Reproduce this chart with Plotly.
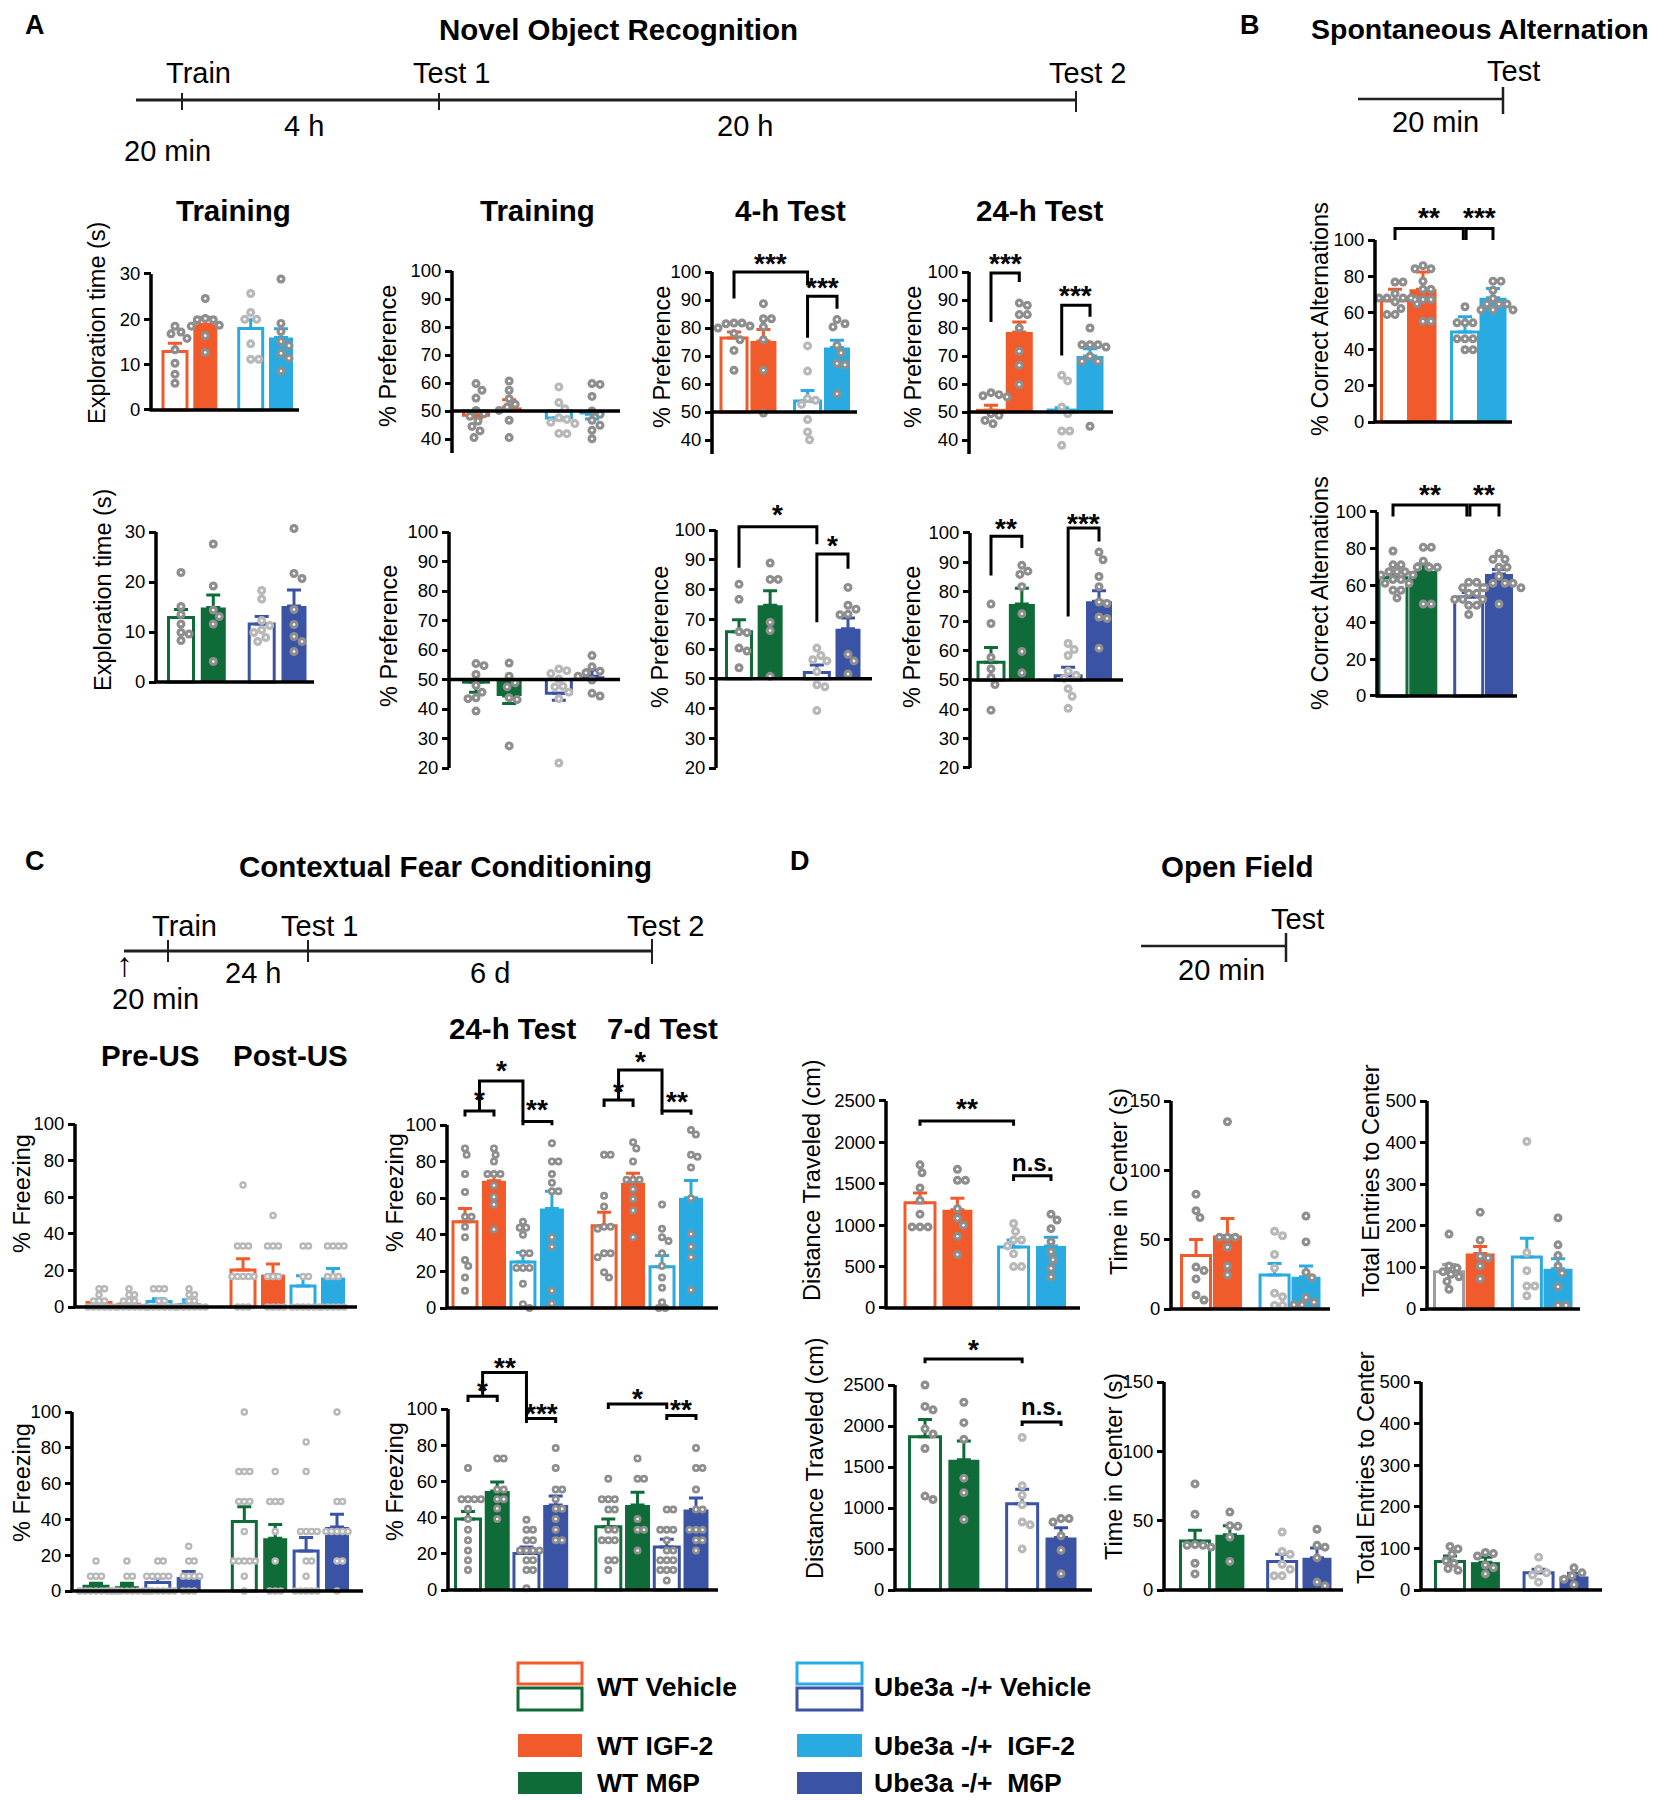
import plotly.graph_objects as go

W, H = 1660, 1800
OFF = 8  # page body margin in the browser
FONT = 'Liberation Sans, Arial, Helvetica, sans-serif'
ORANGE = '#F15A2B'
LBLUE = '#29ABE2'
GREEN = '#0F6B38'
BLUE = '#3A53A4'
GRAYBAR = '#9E9E9E'
DOT_D = '#8E8E8E'
DOT_L = '#B8B8B8'
TL = '#231F20'

IGF_COLORS = [ORANGE, ORANGE, LBLUE, LBLUE]
M6P_COLORS = [GREEN, GREEN, BLUE, BLUE]
IGF8 = IGF_COLORS + IGF_COLORS
M6P8 = M6P_COLORS + M6P_COLORS
FILLED4 = [False, True, False, True]
FILLED8 = FILLED4 + FILLED4
POS4 = [0, 1, 2.5, 3.5]
POS8 = [0, 1, 2, 3, 4.8, 5.8, 6.8, 7.8]

# ---------------- A: Novel object recognition ----------------
A_EXP1_MEAN = [12.9, 18.9, 18.0, 16.0]
A_EXP1_SEM = [1.8, 1.5, 1.9, 1.9]
A_EXP1_PTS = [[18.5, 17.2, 16.8, 15.8, 13.3, 10.3, 7.9, 5.9],
              [24.6, 20.2, 19.9, 19.9, 18.7, 18.5, 16.4, 12.7],
              [25.7, 21.5, 20.0, 20.0, 14.6, 11.2, 11.2],
              [28.9, 19.1, 17.3, 15.1, 14.2, 12.5, 11.4, 8.6]]

A_TRN1_MEAN = [48.5, 51.3, 47.5, 48.8]
A_TRN1_SEM = [0.9, 2.7, 0.6, 1.7]
A_TRN1_PTS = [[59.8, 57.4, 54.6, 50.2, 49.0, 48.1, 46.4, 44.5, 42.9, 40.5],
              [60.7, 57.4, 54.4, 52.4, 51.4, 50.2, 46.7, 40.5],
              [58.6, 53.0, 50.8, 47.6, 47.0, 46.0, 45.5, 42.0, 41.9],
              [59.8, 59.5, 55.2, 50.0, 48.8, 46.7, 44.9, 43.1, 40.1]]

A_4H1_MEAN = [76.4, 75.4, 53.9, 73.0]
A_4H1_SEM = [2.2, 4.1, 3.8, 2.6]
A_4H1_PTS = [[81.8, 81.8, 81.5, 80.7, 80.0, 78.0, 75.8, 72.0, 64.9],
             [88.7, 83.3, 83.3, 80.4, 75.8, 64.9, 49.6],
             [73.6, 64.6, 54.8, 54.2, 52.7, 47.3, 42.9, 40.1],
             [83.0, 81.5, 80.4, 73.8, 71.1, 67.3, 66.9, 56.5]]

A_24H1_MEAN = [50.6, 78.6, 50.7, 70.0]
A_24H1_SEM = [1.8, 3.5, 0.8, 2.6]
A_24H1_PTS = [[56.9, 56.2, 55.8, 55.4, 49.4, 48.8, 47.0, 45.8],
              [88.9, 88.1, 84.8, 84.8, 80.0, 71.7, 66.7, 59.8],
              [63.1, 61.1, 51.8, 49.4, 43.2, 43.2, 38.1],
              [80.0, 74.0, 74.0, 74.0, 73.2, 69.9, 68.1, 68.1, 44.9]]

A_EXP2_MEAN = [12.9, 14.9, 11.6, 15.2]
A_EXP2_SEM = [1.6, 2.5, 1.5, 3.2]
A_EXP2_PTS = [[21.9, 15.1, 13.5, 11.6, 9.9, 9.6, 8.3],
              [27.6, 19.2, 14.4, 13.1, 11.6, 4.1],
              [18.3, 16.6, 12.3, 11.3, 10.4, 9.9, 8.9, 8.1],
              [30.7, 21.7, 20.7, 14.5, 11.5, 9.1, 8.1, 6.1]]

A_TRN2_MEAN = [49.1, 44.4, 45.3, 51.1]
A_TRN2_SEM = [3.4, 2.5, 2.3, 2.1]
A_TRN2_PTS = [[55.4, 54.7, 51.7, 48.0, 45.7, 43.8, 43.5, 39.3],
              [55.6, 51.1, 48.9, 47.5, 43.8, 43.2, 27.5],
              [53.6, 53.0, 52.0, 50.2, 47.7, 47.5, 45.7, 43.5, 21.7],
              [58.1, 54.3, 52.8, 52.3, 51.1, 49.8, 45.3, 44.4]]

A_4H2_MEAN = [65.8, 74.7, 52.1, 66.8]
A_4H2_SEM = [4.0, 4.9, 2.5, 3.6]
A_4H2_PTS = [[81.8, 76.7, 65.8, 65.5, 60.3, 59.3, 53.7],
             [88.9, 83.4, 83.4, 69.0, 66.2, 50.8],
             [60.3, 57.8, 56.4, 56.0, 52.4, 48.0, 47.3, 39.3],
             [80.7, 74.7, 73.4, 71.7, 71.5, 58.2, 56.0, 51.6]]

A_24H2_MEAN = [56.0, 75.8, 51.4, 76.8]
A_24H2_SEM = [5.0, 5.4, 2.9, 3.5]
A_24H2_PTS = [[75.8, 69.2, 57.6, 53.8, 50.8, 48.4, 39.7],
              [89.0, 87.0, 85.9, 81.7, 72.5, 59.7, 52.4],
              [62.4, 60.3, 58.3, 52.9, 51.6, 50.5, 47.0, 44.4, 40.3],
              [93.5, 90.9, 85.2, 81.7, 76.5, 76.0, 71.4, 70.9, 60.8]]

# ---------------- B: Spontaneous alternation ----------------
B1_MEAN = [66.6, 72.9, 49.5, 68.3]
B1_SEM = [6.3, 9.5, 8.3, 5.1]
B1_PTS = [[76.9, 76.9, 70.6, 68.1, 68.1, 68.1, 68.1, 66.0, 64.8, 62.3, 59.0, 59.0],
          [85.9, 84.2, 84.2, 77.4, 72.9, 72.9, 67.3, 67.3, 67.3, 55.3, 55.3],
          [63.3, 54.5, 54.5, 54.5, 45.7, 45.7, 45.7, 39.7, 39.7],
          [77.4, 77.4, 72.4, 67.8, 64.8, 64.8, 64.8, 61.6, 61.6, 61.6]]

B2_MEAN = [64.3, 68.0, 53.8, 66.3]
B2_SEM = [2.0, 3.8, 2.5, 2.5]
B2_PTS = [[78.8, 71.3, 71.3, 67.5, 67.5, 67.5, 65.8, 65.8, 63.3, 63.3, 61.3, 61.3, 57.5, 57.5, 53.3],
          [80.8, 80.8, 73.3, 70.0, 70.0, 70.0, 50.0, 50.0],
          [61.8, 61.8, 58.8, 58.8, 55.8, 55.8, 52.5, 52.5, 52.5, 49.3, 49.3, 44.3],
          [77.5, 74.3, 74.3, 70.0, 70.0, 65.0, 61.3, 61.3, 61.3, 58.8, 58.8, 50.0]]

# ---------------- C: Contextual fear conditioning ----------------
C_PP1_MEAN = [2.5, 2.4, 3.0, 2.2, 20.2, 17.7, 11.5, 16.1]
C_PP1_SEM = [1.2, 1.0, 1.5, 1.8, 6.1, 5.8, 5.6, 5.0]
C_PP1_PTS = [[10, 10, 6.7, 3.3, 3.3, 3.3, 0, 0, 0, 0, 0, 0],
             [10, 6.7, 6.7, 3.3, 3.3, 3.3, 0, 0, 0, 0, 0, 0],
             [10, 10, 10, 3.3, 3.3, 0, 0, 0, 0, 0, 0],
             [10, 6.7, 6.7, 3.3, 3.3, 0, 0, 0, 0, 0, 0],
             [66.7, 33.3, 33.3, 33.3, 16.7, 16.7, 16.7, 16.7, 16.7, 0, 0, 0],
             [50, 33.3, 33.3, 33.3, 16.7, 16.7, 16.7, 0, 0, 0, 0],
             [33.3, 33.3, 16.7, 16.7, 0, 0, 0, 0, 0, 0],
             [33.3, 33.3, 33.3, 33.3, 16.7, 16.7, 16.7, 0, 0, 0, 0, 0]]

C_PP2_MEAN = [2.7, 2.7, 4.7, 7.8, 38.8, 29.5, 22.3, 35.7]
C_PP2_SEM = [1.6, 1.6, 2.5, 3.1, 8.2, 7.6, 7.6, 7.2]
C_PP2_PTS = [[16.7, 8.3, 8.3, 8.3, 0, 0, 0, 0, 0, 0, 0, 0],
             [16.7, 8.3, 8.3, 0, 0, 0, 0, 0, 0, 0, 0],
             [16.7, 16.7, 8.3, 8.3, 8.3, 8.3, 8.3, 0, 0, 0, 0, 0, 0],
             [25, 16.7, 16.7, 8.3, 8.3, 8.3, 8.3, 0, 0, 0],
             [100, 66.7, 66.7, 66.7, 50, 50, 50, 33.3, 16.7, 16.7, 16.7, 16.7, 16.7, 8.3, 0],
             [66.7, 50, 50, 50, 33.3, 16.7, 0, 0, 0],
             [83.3, 66.7, 33.3, 33.3, 33.3, 33.3, 16.7, 16.7, 8.3, 0, 0, 0, 0, 0],
             [100, 50, 50, 33.3, 33.3, 33.3, 33.3, 33.3, 16.7, 16.7, 0]]

C_T1_MEAN = [47.1, 69.5, 25.1, 54.4, 45.0, 68.4, 22.6, 60.3]
C_T1_SEM = [7.3, 3.7, 5.2, 9.4, 7.3, 5.2, 6.1, 9.4]
C_T1_PTS = [[87.2, 83.7, 73.2, 63.4, 49.8, 49.8, 44.4, 38.7, 26.2, 23.0, 16.7, 9.4],
            [87.2, 83.7, 80.1, 73.2, 73.2, 73.2, 66.9, 60.7, 56.5, 42.9],
            [47.1, 43.9, 43.9, 40.0, 29.9, 29.9, 21.9, 21.9, 21.9, 13.2, 2.1, 0],
            [90.0, 80.1, 80.1, 73.2, 68.4, 63.8, 63.8, 38.7, 33.5, 9.4, 2.5],
            [83.7, 83.7, 61.3, 55.4, 44.4, 44.4, 43.3, 29.9, 29.9, 27.8, 19.5, 16.7],
            [90.6, 87.2, 80.1, 70.1, 70.1, 70.1, 64.9, 59.6, 53.3, 38.7],
            [56.5, 43.3, 38.7, 36.6, 29.9, 23.0, 16.7, 11.1, 3.1, 0, 0],
            [97.3, 94.8, 83.7, 82.6, 76.8, 60.0, 40.4, 33.5, 27.8, 9.8]]

C_T2_MEAN = [39.2, 54.7, 20.1, 47.0, 35.0, 47.0, 23.7, 44.5]
C_T2_SEM = [4.2, 5.0, 3.6, 4.9, 4.2, 7.0, 4.3, 6.3]
C_T2_PTS = [[67.4, 50.2, 50.2, 50.2, 50.2, 44.9, 39.2, 33.3, 27.5, 21.8, 16.5, 11.0],
            [72.7, 72.7, 55.5, 55.5, 50.2, 50.2, 45.0, 39.2],
            [38.8, 33.3, 33.3, 27.5, 27.5, 21.8, 21.8, 21.8, 21.8, 16.5, 16.5, 11.0, 11.0, 1.0],
            [78.4, 67.4, 55.5, 55.5, 50.2, 44.9, 44.9, 39.2, 33.3, 27.5, 27.5],
            [61.4, 50.2, 50.2, 50.2, 44.5, 44.5, 33.3, 33.3, 27.5, 27.5, 27.5, 16.5, 16.5, 11.0],
            [72.7, 61.4, 61.4, 39.2, 33.3, 33.3, 21.8],
            [44.5, 44.5, 33.3, 33.3, 33.3, 27.5, 21.8, 21.8, 16.5, 16.5, 16.5, 11.0, 11.0, 11.0, 5.3],
            [78.4, 67.4, 67.4, 55.5, 44.5, 44.5, 33.3, 33.3, 33.3, 27.5, 27.5, 21.8]]

# ---------------- D: Open field ----------------
D_DIST1_MEAN = [1271, 1188, 738, 750]
D_DIST1_SEM = [117, 137, 83, 104]
D_DIST1_PTS = [[1729, 1633, 1450, 1300, 1133, 979, 979, 979],
               [1675, 1542, 1542, 1200, 1083, 1000, 867, 646],
               [1021, 925, 821, 821, 750, 654, 500, 500],
               [1133, 1063, 958, 800, 679, 583, 479, 375]]
D_DIST2_MEAN = [1869, 1587, 1052, 640]
D_DIST2_SEM = [210, 231, 177, 118]
D_DIST2_PTS = [[2500, 2239, 2197, 1965, 1902, 1726, 1145, 1103],
               [2290, 2041, 1839, 1364, 1187, 859],
               [1860, 1271, 1157, 1040, 829, 795, 501],
               [871, 871, 829, 661, 484, 198]]
D_TIME1_MEAN = [38.5, 53.0, 24.6, 23.3]
D_TIME1_SEM = [11.7, 12.2, 8.2, 7.7]
D_TIME1_PTS = [[82.8, 70.9, 65.9, 30.3, 27.7, 21.7, 10.1, 6.5],
               [135.0, 51.7, 51.7, 51.7, 44.5, 31.0, 24.6],
               [56.1, 52.8, 39.3, 29.5, 11.4, 8.8, 2.6, 2.6],
               [67.0, 48.4, 26.4, 22.5, 8.3, 4.9, 3.1, 3.1]]
D_ENT1_MEAN = [89.7, 133.6, 125.0, 96.6]
D_ENT1_SEM = [17.2, 16.4, 44.8, 24.1]
D_ENT1_PTS = [[180.0, 103.4, 98.3, 89.7, 83.6, 77.6, 66.4, 47.4],
              [232.8, 165.5, 126.7, 122.4, 103.4, 72.4],
              [402.6, 135.3, 92.2, 55.2, 55.2, 31.9],
              [219.0, 154.3, 128.4, 103.4, 86.2, 53.4, 8.6, 8.6]]
D_TIME2_MEAN = [35.3, 39.9, 20.6, 23.2]
D_TIME2_SEM = [7.7, 6.5, 5.2, 7.0]
D_TIME2_PTS = [[76.5, 54.6, 32.7, 32.2, 32.2, 30.9, 19.3, 11.6],
               [56.2, 46.4, 45.9, 38.1, 20.6],
               [41.8, 27.8, 25.8, 18.6, 14.9, 10.3, 10.3],
               [43.8, 32.2, 30.9, 23.2, 5.7, 3.1]]
D_ENT2_MEAN = [68.7, 67.0, 41.2, 32.6]
D_ENT2_SEM = [12.9, 12.0, 8.6, 7.8]
D_ENT2_PTS = [[104.8, 98.8, 85.9, 70.4, 64.4, 51.5, 47.3],
              [90.2, 87.6, 81.6, 60.1, 53.3, 38.7],
              [79.0, 49.8, 41.2, 36.1, 18.9],
              [53.3, 41.2, 34.4, 25.8, 12.9]]

T_A1 = [0, 10, 20, 30]
T_PREF_TOP = [40, 50, 60, 70, 80, 90, 100]
T_PREF_BOT = [20, 30, 40, 50, 60, 70, 80, 90, 100]
T_100 = [0, 20, 40, 60, 80, 100]
T_DIST = [0, 500, 1000, 1500, 2000, 2500]
T_TIME = [0, 50, 100, 150]
T_ENT = [0, 100, 200, 300, 400, 500]

# ---------------------------------------------------------------
fig = go.Figure()
axes = {}
shapes = []
annotations = []
counter = [0]


def PX(px):
    return (px - OFF) / W


def PY(py):
    return 1 - (py - OFF) / H


def interp(pos, a):
    i0 = int(a)
    f = a - i0
    if f < 1e-9:
        return pos[i0]
    return pos[i0] + f * (pos[i0 + 1] - pos[i0])


def beeswarm(vals, uy, gap):
    offs = [0.0]
    for k in range(1, 60):
        offs += [k * gap / 4.0, -k * gap / 4.0]
    placed = []
    res = [0.0] * len(vals)
    for i in sorted(range(len(vals)), key=lambda t: -vals[t]):
        y = vals[i] * uy
        for o in offs:
            if all((o - a) ** 2 + (y - b) ** 2 >= gap * gap for a, b in placed):
                placed.append((o, y))
                res[i] = o
                break
    return res


def panel(means, sems, pts, colors, filled, light, pos, ax_px, end_px, c0, c1, bw,
          cal, ax_lo, ax_hi, base, ticks, brackets=(), dot=9, gap=8, edge=None):
    counter[0] += 1
    i = counter[0]
    sfx = '' if i == 1 else str(i)
    xn, yn = 'x' + sfx, 'y' + sfx
    ux = (c1 - c0) / (pos[-1] - pos[0])

    def dx(p):
        return pos[0] + (p - c0) / ux
    v1, p1, v2, p2 = cal
    uy = (p1 - p2) / (v2 - v1)

    def py(v):
        return p1 - (v - v1) * uy
    top = ax_hi
    for b in brackets:
        top = max(top, b[5] + 18 / uy)
    top = max(top, max(max(g) for g in pts) + 8 / uy)
    ylo = ax_lo - 8 / uy
    yhi = top + 6 / uy
    xlo_px, xhi_px = ax_px - 10, end_px + 10
    axes['xaxis' + sfx] = dict(domain=[PX(xlo_px), PX(xhi_px)], range=[dx(xlo_px), dx(xhi_px)],
                               visible=False, anchor=yn, fixedrange=True)
    axes['yaxis' + sfx] = dict(domain=[PY(py(ylo)), PY(py(yhi))], range=[ylo, yhi],
                               anchor='free', position=PX(ax_px), showline=False, showgrid=False,
                               zeroline=False, ticks='outside', ticklen=7, tickwidth=2.5,
                               tickcolor='black', tickvals=ticks, ticktext=[str(t) for t in ticks],
                               tickfont=dict(size=18.5, color='black', family=FONT), fixedrange=True)
    lc = edge or colors
    n = len(means)
    fig.add_trace(go.Bar(x=pos, y=[m - base for m in means], base=[base] * n, width=[bw / ux] * n,
                         marker=dict(color=[c if f else 'white' for c, f in zip(colors, filled)],
                                     line=dict(color=lc, width=[0 if f else 3 for f in filled])),
                         xaxis=xn, yaxis=yn, showlegend=False, hoverinfo='skip'))
    for j, (m, s) in enumerate(zip(means, sems)):
        up = s if m >= base else 0
        dn = s if m < base else 0
        fig.add_trace(go.Scatter(x=[pos[j]], y=[m], mode='markers', marker=dict(size=2, opacity=0),
                                 error_y=dict(type='data', symmetric=False, array=[up], arrayminus=[dn],
                                              color=lc[j], thickness=3, width=7),
                                 xaxis=xn, yaxis=yn, showlegend=False, hoverinfo='skip'))
    xs, ys, cs = [], [], []
    for j, g in enumerate(pts):
        offs = beeswarm(g, uy, gap)
        xs += [pos[j] + o / ux for o in offs]
        ys += list(g)
        cs += [DOT_L if light[j] else DOT_D] * len(g)
    fig.add_trace(go.Scatter(x=xs, y=ys, mode='markers', cliponaxis=False,
                             marker=dict(size=dot, color=cs, line=dict(width=0)),
                             xaxis=xn, yaxis=yn, showlegend=False, hoverinfo='skip'))
    fig.add_trace(go.Scatter(x=xs, y=ys, mode='markers', cliponaxis=False,
                             marker=dict(size=2.6, color='white', line=dict(width=0)),
                             xaxis=xn, yaxis=yn, showlegend=False, hoverinfo='skip'))
    X0, X1 = dx(ax_px), dx(end_px)
    shapes.append(dict(type='line', xref=xn, yref=yn, x0=X0, x1=X0, y0=ax_lo, y1=ax_hi,
                       line=dict(color='black', width=3.5), layer='above'))
    shapes.append(dict(type='line', xref=xn, yref=yn, x0=X0 - 1.5 / ux, x1=X1, y0=base, y1=base,
                       line=dict(color='black', width=3.5), layer='above'))
    for (a, b, lev, la, lb, ty, lab) in brackets:
        xa, xb = interp(pos, a), interp(pos, b)
        shapes.append(dict(type='path', xref=xn, yref=yn,
                           path=f'M {xa},{la} L {xa},{lev} L {xb},{lev} L {xb},{lb}',
                           line=dict(color='black', width=3)))
        star = '*' in lab
        annotations.append(dict(xref=xn, yref=yn, x=(xa + xb) / 2, y=ty, text=f'<b>{lab}</b>',
                                showarrow=False, yshift=-4 if star else 0,
                                font=dict(size=28 if star else 24, family=FONT, color='black')))


def txt(x, y, s, size, bold=False, anchor='center', angle=0):
    annotations.append(dict(xref='paper', yref='paper', x=PX(x), y=PY(y),
                            text=f'<b>{s}</b>' if bold else s, showarrow=False,
                            xanchor=anchor, yanchor='middle', textangle=angle,
                            font=dict(size=size, family=FONT, color='black')))


def pline(x0, y0, x1, y1, w, c=TL):
    shapes.append(dict(type='line', xref='paper', yref='paper', x0=PX(x0), y0=PY(y0),
                       x1=PX(x1), y1=PY(y1), line=dict(color=c, width=w)))


def prect(x0, y0, x1, y1, fill, line, lw):
    shapes.append(dict(type='rect', xref='paper', yref='paper', x0=PX(x0), y0=PY(y0),
                       x1=PX(x1), y1=PY(y1), fillcolor=fill, line=dict(color=line, width=lw)))


LA = [False, False, True, False]
LB = [False, False, False, False]
LC = [True] * 8
LT = [False] * 8

# A row 1
panel(A_EXP1_MEAN, A_EXP1_SEM, A_EXP1_PTS, IGF_COLORS, FILLED4, LA, POS4, 151, 299, 175, 281, 24,
      (0, 410, 30, 274), 0, 30, 0, T_A1)
panel(A_TRN1_MEAN, A_TRN1_SEM, A_TRN1_PTS, IGF_COLORS, FILLED4, LA, POS4, 452, 620, 476, 592, 25,
      (50, 411, 100, 271), 35, 100, 50, T_PREF_TOP)
panel(A_4H1_MEAN, A_4H1_SEM, A_4H1_PTS, IGF_COLORS, FILLED4, LA, POS4, 712, 857, 734, 837, 26,
      (50, 412, 100, 272), 35, 100, 50, T_PREF_TOP,
      [(0, 2, 100, 90.5, 95.2, 104.4, '***'), (2, 3, 91.3, 76.5, 86.9, 96, '***')])
panel(A_24H1_MEAN, A_24H1_SEM, A_24H1_PTS, IGF_COLORS, FILLED4, LA, POS4, 969, 1113, 991, 1090, 27,
      (50, 412, 100, 272), 35, 100, 50, T_PREF_TOP,
      [(0, 1, 99.6, 82.1, 96.4, 104.4, '***'), (2, 3, 88.1, 70.2, 84, 92.9, '***')])
# A row 2
panel(A_EXP2_MEAN, A_EXP2_SEM, A_EXP2_PTS, M6P_COLORS, FILLED4, LA, POS4, 156, 314, 181, 294, 25,
      (0, 682, 30, 532), 0, 30, 0, T_A1)
panel(A_TRN2_MEAN, A_TRN2_SEM, A_TRN2_PTS, M6P_COLORS, FILLED4, LA, POS4, 449, 620, 476, 592, 25,
      (20, 768, 100, 532), 20, 100, 50, T_PREF_BOT)
panel(A_4H2_MEAN, A_4H2_SEM, A_4H2_PTS, M6P_COLORS, FILLED4, LA, POS4, 716, 872, 739, 848, 25,
      (20, 768, 100, 530), 20, 100, 50, T_PREF_BOT,
      [(0, 2, 101.1, 87.3, 95.2, 106.4, '*'), (2, 3, 91.9, 69, 87, 96, '*')])
panel(A_24H2_MEAN, A_24H2_SEM, A_24H2_PTS, M6P_COLORS, FILLED4, LA, POS4, 970, 1123, 991, 1099, 26,
      (20, 768, 100, 533), 20, 100, 50, T_PREF_BOT,
      [(0, 1, 98.9, 85.5, 94.9, 103, '**'), (2, 3, 101.7, 71.6, 97.1, 104.6, '***')])
# B
panel(B1_MEAN, B1_SEM, B1_PTS, IGF_COLORS, FILLED4, LB, POS4, 1375, 1512, 1395, 1493, 27,
      (0, 422, 100, 240), 0, 100, 0, T_100,
      [(0, 1.96, 106.3, 100, 100, 114.8, '**'), (2.04, 3, 106.3, 100, 100, 114.8, '***')])
panel(B2_MEAN, B2_SEM, B2_PTS, M6P_COLORS, FILLED4, LB, POS4, 1377, 1517, 1393, 1499, 28,
      (0, 696, 100, 512), 0, 100, 0, T_100,
      [(0, 1.96, 103.8, 97.5, 97.5, 111.8, '**'), (2.04, 3, 103.8, 97.5, 97.5, 111.8, '**')])
# C
panel(C_PP1_MEAN, C_PP1_SEM, C_PP1_PTS, IGF8, FILLED8, LC, POS8, 75, 357, 99, 333, 24,
      (0, 1307, 100, 1124), 0, 100, 0, T_100, dot=7.5, gap=5.5)
panel(C_PP2_MEAN, C_PP2_SEM, C_PP2_PTS, M6P8, FILLED8, LC, POS8, 72, 363, 96, 337, 24,
      (0, 1591, 100, 1412), 0, 100, 0, T_100, dot=7.5, gap=5.5)
panel(C_T1_MEAN, C_T1_SEM, C_T1_PTS, IGF8, FILLED8, LT, POS8, 447, 718, 465, 691, 24,
      (0, 1308, 100, 1125), 0, 100, 0, T_100,
      [(0, 1, 107.7, 104.6, 104.6, 116.1, '*'), (0.5, 2, 124.1, 107.7, 101.9, 131.8, '*'),
       (2, 3, 101.9, 99.8, 99.8, 110.9, '**'), (4, 5, 113.6, 109.8, 109.8, 120.3, '*'),
       (4.5, 6, 130.1, 113.6, 107.7, 137, '*'), (6, 7, 107.7, 105.6, 105.6, 115, '**')],
      dot=8, gap=6.5)
panel(C_T2_MEAN, C_T2_SEM, C_T2_PTS, M6P8, FILLED8, LT, POS8, 448, 718, 468, 696, 25,
      (0, 1590, 100, 1409), 0, 100, 0, T_100,
      [(0, 1, 107, 103.8, 103.8, 112.3, '*'), (0.5, 2, 120.1, 107, 94.7, 125, '**'),
       (2, 3, 94.7, 92.2, 92.2, 100, '***'), (4, 6, 102.8, 100, 100, 108, '*'),
       (6, 7, 96.4, 93.9, 93.9, 101.7, '**')],
      dot=8, gap=6.5)
# D
panel(D_DIST1_MEAN, D_DIST1_SEM, D_DIST1_PTS, IGF_COLORS, FILLED4, LA, POS4, 886, 1080, 920, 1051, 30,
      (0, 1308, 2500, 1101), 0, 2500, 0, T_DIST,
      [(0, 2, 2258, 2200, 2200, 2458, '**'), (2, 3, 1596, 1533, 1533, 1758, 'n.s.')])
panel(D_DIST2_MEAN, D_DIST2_SEM, D_DIST2_PTS, M6P_COLORS, FILLED4, LA, POS4, 895, 1092, 925, 1061, 31,
      (0, 1590, 2500, 1385), 0, 2500, 0, T_DIST,
      [(0, 2, 2816, 2765, 2765, 2984, '*'), (2, 3, 2050, 1999, 1999, 2239, 'n.s.')])
panel(D_TIME1_MEAN, D_TIME1_SEM, D_TIME1_PTS, IGF_COLORS, FILLED4, LA, POS4, 1171, 1330, 1196, 1306, 29,
      (0, 1309, 150, 1101), 0, 150, 0, T_TIME)
panel(D_ENT1_MEAN, D_ENT1_SEM, D_ENT1_PTS, IGF_COLORS, FILLED4, LA, POS4, 1427, 1580, 1449, 1558, 29,
      (0, 1309, 500, 1101), 0, 500, 0, T_ENT, edge=[GRAYBAR, ORANGE, LBLUE, LBLUE])
panel(D_TIME2_MEAN, D_TIME2_SEM, D_TIME2_PTS, M6P_COLORS, FILLED4, LA, POS4, 1164, 1343, 1195, 1317, 29,
      (0, 1590, 150, 1382), 0, 150, 0, T_TIME)
panel(D_ENT2_MEAN, D_ENT2_SEM, D_ENT2_PTS, M6P_COLORS, FILLED4, LA, POS4, 1421, 1602, 1450, 1574, 29,
      (0, 1590, 500, 1382), 0, 500, 0, T_ENT)

# axis titles
for (x, y, s) in [(97, 323, 'Exploration time (s)'), (388, 356, '% Preference'),
                  (662, 357, '% Preference'), (913, 357, '% Preference'),
                  (103, 590, 'Exploration time (s)'), (389, 636, '% Preference'),
                  (660, 637, '% Preference'), (912, 637, '% Preference'),
                  (1320, 319, '% Correct Alternations'), (1320, 593, '% Correct Alternations'),
                  (22, 1194, '% Freezing'), (22, 1483, '% Freezing'),
                  (395, 1193, '% Freezing'), (395, 1482, '% Freezing'),
                  (812, 1180, 'Distance Traveled (cm)'), (815, 1458, 'Distance Traveled (cm)'),
                  (1119, 1182, 'Time in Center (s)'), (1371, 1181, 'Total Entries to Center'),
                  (1114, 1467, 'Time in Center (s)'), (1366, 1468, 'Total Entries to Center')]:
    txt(x, y, s, 23.5, angle=-90)

# panel letters and titles
for (x, y, s) in [(35, 25, 'A'), (1250, 25, 'B'), (35, 861, 'C'), (800, 861, 'D')]:
    txt(x, y, s, 27, bold=True)
for (x, y, s) in [(618, 29, 'Novel Object Recognition'), (1480, 29, 'Spontaneous Alternation'),
                  (445, 866, 'Contextual Fear Conditioning'), (1237, 866, 'Open Field'),
                  (233, 210, 'Training'), (537, 210, 'Training'), (790, 210, '4-h Test'),
                  (1039, 210, '24-h Test'), (150, 1055, 'Pre-US'), (290, 1055, 'Post-US'),
                  (512, 1029, '24-h Test'), (662, 1029, '7-d Test')]:
    txt(x, y, s, 28.5 if s == 'Spontaneous Alternation' else 29.5, bold=True)

# timelines
pline(136, 100, 1076, 100, 3)
for xx in (182, 439):
    pline(xx, 93, xx, 110, 2)
pline(1076, 91, 1076, 112, 2)
for (x, y, s) in [(198, 73, 'Train'), (451, 73, 'Test 1'), (1087, 73, 'Test 2'),
                  (304, 126, '4 h'), (745, 126, '20 h'), (167, 151, '20 min')]:
    txt(x, y, s, 29)
pline(1358, 99, 1503, 99, 2.5)
pline(1503, 87, 1503, 114, 2.5)
txt(1513, 71, 'Test', 29)
txt(1435, 122, '20 min', 29)
pline(124, 951, 652, 951, 3)
for xx in (168, 308):
    pline(xx, 940, xx, 962, 2)
pline(652, 939, 652, 964, 2)
for (x, y, s) in [(184, 926, 'Train'), (319, 926, 'Test 1'), (665, 926, 'Test 2'),
                  (253, 973, '24 h'), (490, 973, '6 d'), (155, 999, '20 min')]:
    txt(x, y, s, 29)
txt(124, 964, '\u2191', 34)
pline(1141, 946, 1286, 946, 2.5)
pline(1286, 933, 1286, 962, 2.5)
txt(1297, 919, 'Test', 29)
txt(1221, 970, '20 min', 29)

# legend
prect(518, 1663, 582, 1684, 'white', ORANGE, 3)
prect(518, 1688, 582, 1710, 'white', GREEN, 3)
prect(518, 1734, 582, 1757, ORANGE, ORANGE, 0)
prect(518, 1772, 582, 1794, GREEN, GREEN, 0)
prect(797, 1663, 862, 1684, 'white', LBLUE, 3)
prect(797, 1688, 862, 1710, 'white', BLUE, 3)
prect(797, 1734, 862, 1757, LBLUE, LBLUE, 0)
prect(797, 1772, 862, 1794, BLUE, BLUE, 0)
for (x, y, s) in [(595, 1687, 'WT Vehicle'), (595, 1746, 'WT IGF-2'), (595, 1783, 'WT M6P'),
                  (872, 1687, 'Ube3a -/+ Vehicle'), (872, 1746, 'Ube3a -/+\u00a0 IGF-2'),
                  (872, 1783, 'Ube3a -/+\u00a0 M6P')]:
    txt(x, y, s, 26.5, bold=True, anchor='left')

fig.update_layout(width=W, height=H, margin=dict(l=0, r=0, t=0, b=0), template='none',
                  paper_bgcolor='white', plot_bgcolor='rgba(0,0,0,0)', barmode='overlay',
                  showlegend=False, shapes=shapes, annotations=annotations,
                  font=dict(family=FONT, color='black'), **axes)
fig.write_html('out.html')
